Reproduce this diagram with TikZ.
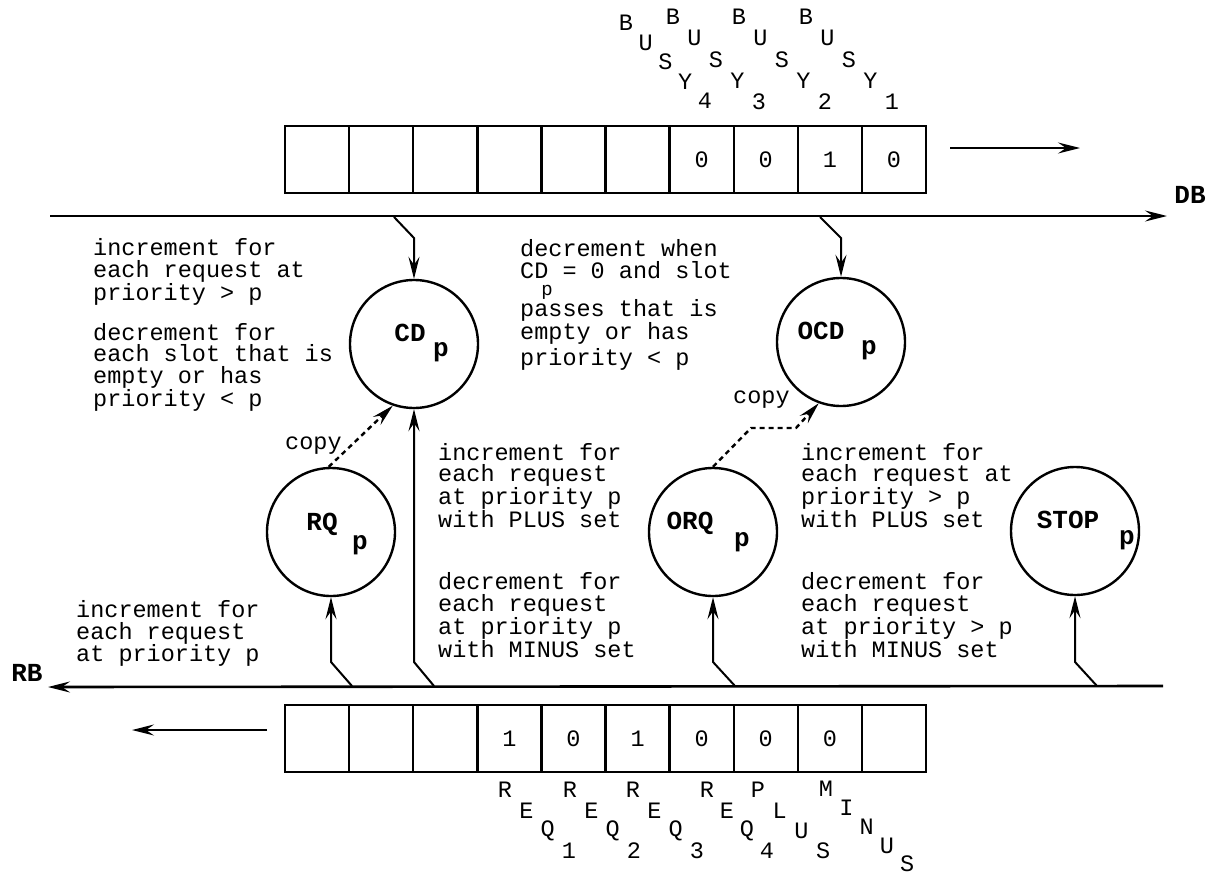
\documentclass[tikz,border=0pt]{standalone}
\usepackage{fontspec}
\newfontfamily\cour{Liberation Mono}
\usetikzlibrary{arrows.meta,calc}
\begin{document}
\begin{tikzpicture}[x=1pt,y=-1pt,
  txt/.style={font=\cour\fontsize{23.5}{21.3}\selectfont, align=left, anchor=base west, inner sep=0pt},
  lt/.style={font=\cour\fontsize{23.5}{21.3}\selectfont, inner sep=0pt, anchor=center},
  bl/.style={font=\cour\bfseries\fontsize{26}{26}\selectfont, inner sep=0pt, anchor=center},
  cell/.style={draw, line width=2.4pt, minimum width=64.1pt, minimum height=67pt, inner sep=0pt, anchor=center, font=\cour\fontsize{23.5}{21.3}\selectfont},
  reg/.style={circle, draw, line width=2.4pt, minimum size=128pt, inner sep=0pt},
  bus/.style={line width=2.6pt},
  conn/.style={line width=2pt},
  tip/.style={-{Stealth[length=22pt,width=11pt,inset=8pt]}},
  copyline/.style={line width=2.4pt, dash pattern=on 5pt off 4pt},
]
\useasboundingbox (0,0) rectangle (1212,875);

% ---------- registers ----------
\foreach \v [count=\i] in {{},{},{},{},{},{},0,0,1,0}
  \node[cell] (top\i) at ({285+64.1*(\i-0.5)},159.5) {\v};
\foreach \v [count=\i] in {{},{},{},1,0,1,0,0,0,{}}
  \node[cell] (bot\i) at ({285+64.1*(\i-0.5)},738.5) {\v};

% ---------- BUSY labels ----------
\foreach \ch [count=\k from 0] in {B,U,S,Y,4}
  \node[lt] (bs4-\k) at ({626+19.7*\k},{23+19.5*\k}) {\ch};
\foreach \n/\x in {3/673,2/739,1/806}
  \foreach \ch [count=\k from 0] in {B,U,S,Y,\n}
    \node[lt] (bs\n-\k) at ({\x+21.5*\k},{17+21.2*\k}) {\ch};

% ---------- REQ / PLUS / MINUS labels ----------
\foreach \n/\x in {1/505,2/570,3/633}
  \foreach \ch [count=\k from 0] in {R,E,Q,\n}
    \node[lt] (rq\n-\k) at ({\x+21.3*\k},{790+20.3*\k}) {\ch};
\foreach \ch [count=\k from 0] in {R,E,Q,4}
  \node[lt] (rq4-\k) at ({707+20*\k},{790+20.3*\k}) {\ch};
\foreach \ch [count=\k from 0] in {P,L,U,S}
  \node[lt] (pl-\k) at ({758+21.7*\k},{790+20.3*\k}) {\ch};
\foreach \ch [count=\k from 0] in {M,I,N,U,S}
  \node[lt] (mi-\k) at ({826+20.3*\k},{789+18.8*\k}) {\ch};

% ---------- buses ----------
\coordinate (dbL) at (50,216);
\coordinate (dbR) at (1167,216);
\draw[bus,tip] (dbL) -- (dbR);
\node[bl] (DB) at (1190,195) {DB};
\coordinate (rbR) at (1163,686);
\coordinate (rbL) at (48,687);
\draw[bus,tip] (rbR) -- (rbL);
\node[bl] (RB) at (27,673) {RB};

% ---------- shift arrows ----------
\coordinate (tra) at (950,148);
\coordinate (trb) at (1080,148);
\draw[conn,tip] (tra) -- (trb);
\coordinate (bla) at (267,730);
\coordinate (blb) at (132,730);
\draw[conn,tip] (bla) -- (blb);

% ---------- counters ----------
\node[reg] (cd) at (414,344) {};
\node[reg] (ocd) at (841,342) {};
\node[reg] (rq) at (331,532) {};
\node[reg] (orq) at (713,532) {};
\node[reg] (stop) at (1075,531) {};

\node[bl] (cdn) at (410,333) {CD};
\node[bl] (cdp) at (441,352) {p};
\node[bl] (ocdn) at (821,331) {OCD};
\node[bl] (ocdp) at (869,350) {p};
\node[bl] (rqn) at (322,524) {RQ};
\node[bl] (rqp) at (360,545) {p};
\node[bl] (orqn) at (690,523) {ORQ};
\node[bl] (orqp) at (742,542) {p};
\node[bl] (stopn) at (1068,520) {STOP};
\node[bl] (stopp) at (1127,540) {p};

% ---------- connectors from DB ----------
\coordinate (dbt1) at (394,217);
\coordinate (dbk1) at (414,238);
\draw[conn,tip] (dbt1) -- (dbk1) -- (cd.north);
\coordinate (dbt2) at (820,217);
\coordinate (dbk2) at (841,238);
\draw[conn,tip] (dbt2) -- (dbk2) -- (ocd.north);

% ---------- connectors from RB ----------
\coordinate (rbt1) at (352,686);
\coordinate (rbk1) at (331,662);
\draw[conn,tip] (rbt1) -- (rbk1) -- (rq.south);
\coordinate (rbt2) at (434,686);
\coordinate (rbk2) at (414,662);
\draw[conn,tip] (rbt2) -- (rbk2) -- (cd.south);
\coordinate (rbt3) at (735,686);
\coordinate (rbk3) at (713,662);
\draw[conn,tip] (rbt3) -- (rbk3) -- (orq.south);
\coordinate (rbt4) at (1097,686);
\coordinate (rbk4) at (1075,662);
\draw[conn,tip] (rbt4) -- (rbk4) -- (stop.south);

% ---------- copy ----------
\draw[copyline,tip] (rq.92) -- (cd.251);
\coordinate (cp1) at (751,428);
\coordinate (cp2) at (796,428);
\draw[copyline,tip] (orq.north) -- (cp1) -- (cp2) -- (ocd.250);
\node[txt] (copy1) at (285,449) {copy};
\node[txt] (copy2) at (733,403) {copy};

% ---------- texts (anchor = baseline of last line) ----------
\node[txt] (tA) at (93,300) {increment for\\each request at\\priority > p};
\node[txt] (tB) at (93,406) {decrement for\\each slot that is\\empty or has\\priority < p};
\node[txt, font=\cour\fontsize{23.5}{22}\selectfont] (tC1) at (520,278) {decrement when\\CD = 0 and slot};
\node[txt, anchor=base, font=\cour\fontsize{19}{19}\selectfont] (tCp) at (547,295) {p};
\node[txt, font=\cour\fontsize{23.5}{18.5}\selectfont] (tC2) at (520,339) {passes that is\\empty or has};
\node[txt] (tC3) at (520,365) {priority < p};
\node[txt, font=\cour\fontsize{23.5}{20.7}\selectfont] (tD) at (438,527) {increment for\\each request\\at priority p\\with PLUS set};
\node[txt, font=\cour\fontsize{23.5}{21.7}\selectfont] (tE) at (438,657) {decrement for\\each request\\at priority p\\with MINUS set};
\node[txt, font=\cour\fontsize{23.5}{20.7}\selectfont] (tF) at (801,527) {increment for\\each request at\\priority > p\\with PLUS set};
\node[txt, font=\cour\fontsize{23.5}{21.7}\selectfont] (tG) at (801,657) {decrement for\\each request\\at priority > p\\with MINUS set};
\node[txt, font=\cour\fontsize{23.5}{22}\selectfont] (tH) at (76,661) {increment for\\each request\\at priority p};
\end{tikzpicture}
\end{document}
